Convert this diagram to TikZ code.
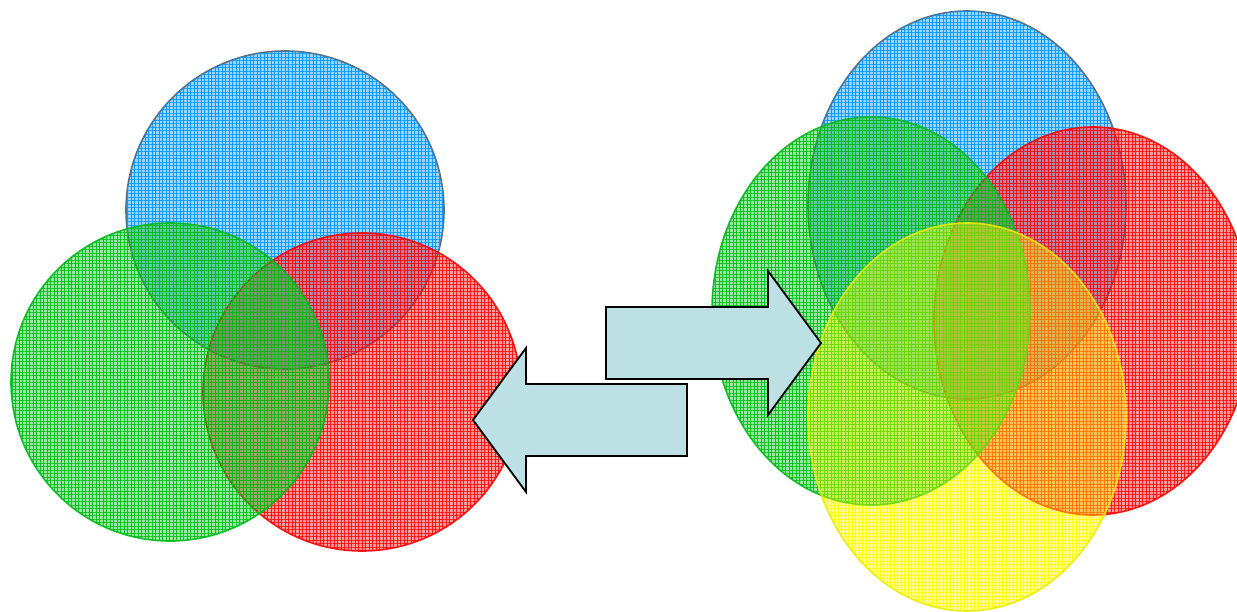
\documentclass[tikz,border=0pt]{standalone}
\usetikzlibrary{shapes.geometric,patterns.meta}

% fine woven grid used as texture on the discs
\pgfdeclarepattern{
  name=finegrid,
  type=uncolored,
  bottom left={\pgfpoint{-.1pt}{-.1pt}},
  top right={\pgfpoint{3.6pt}{3.6pt}},
  tile size={\pgfpoint{3.5pt}{3.5pt}},
  code={
    \pgfsetlinewidth{1.2pt}
    \pgfpathmoveto{\pgfpoint{0pt}{1.75pt}}\pgfpathlineto{\pgfpoint{3.5pt}{1.75pt}}
    \pgfpathmoveto{\pgfpoint{1.75pt}{0pt}}\pgfpathlineto{\pgfpoint{1.75pt}{3.5pt}}
    \pgfusepath{stroke}
  }
}

\definecolor{blueline}{RGB}{0,150,255}
\definecolor{blueedge}{RGB}{85,95,105}
\definecolor{greenline}{RGB}{0,190,20}
\definecolor{greenedge}{RGB}{0,185,30}
\definecolor{redline}{RGB}{255,10,10}
\definecolor{rededge}{RGB}{250,0,0}
\definecolor{yellowline}{RGB}{255,255,0}
\definecolor{yellowedge}{RGB}{235,235,0}
\definecolor{arrowfill}{RGB}{188,224,227}

\tikzset{
  disc/.style={inner sep=0pt, outer sep=0pt, fill opacity=0.4, draw opacity=0.9, line width=1.6pt},
  bluedisc/.style={disc, draw=blueedge, fill=blueline,
    postaction={pattern={finegrid}, pattern color=blueline, fill opacity=0.9}},
  greendisc/.style={disc, draw=greenedge, fill=greenline,
    postaction={pattern={finegrid}, pattern color=greenline, fill opacity=0.9}},
  reddisc/.style={disc, draw=rededge, fill=redline,
    postaction={pattern={finegrid}, pattern color=redline, fill opacity=0.9}},
  yellowdisc/.style={disc, draw=yellowedge, fill=yellowline, fill opacity=0.42,
    postaction={pattern={finegrid}, pattern color=yellowline, fill opacity=0.9,
      blend mode=multiply}},
  roundset/.style={circle, minimum size=318pt},
  ovalset/.style={ellipse, minimum width=318pt, minimum height=388pt},
  blockarrow/.style={draw=black, line width=1.8pt, fill=arrowfill, line join=miter}
}

\begin{document}
\begin{tikzpicture}[x=1pt,y=-1pt]
\useasboundingbox (0,0) rectangle (1237,612);
\clip (0,0) rectangle (1237,612);

% three overlapping circles
\node[roundset, bluedisc]  (lblue)  at (285,210) {};
\node[roundset, reddisc]   (lred)   at (362,392) {};
\node[roundset, greendisc] (lgreen) at (170,382) {};

% four overlapping ellipses
\node[ovalset, bluedisc]   (rblue)   at (967,205) {};
\node[ovalset, reddisc]    (rred)    at (1093,321) {};
\node[ovalset, greendisc]  (rgreen)  at (871,311) {};
\node[ovalset, yellowdisc] (ryellow) at (967,417) {};

% block arrows between the two sets
\draw[blockarrow] (606,307) -- (768,307) -- (768,271) -- (821,343)
  -- (768,415) -- (768,379) -- (606,379) -- cycle;
\draw[blockarrow] (687,384) -- (526,384) -- (526,348) -- (473,420)
  -- (526,492) -- (526,456) -- (687,456) -- cycle;
\end{tikzpicture}
\end{document}
